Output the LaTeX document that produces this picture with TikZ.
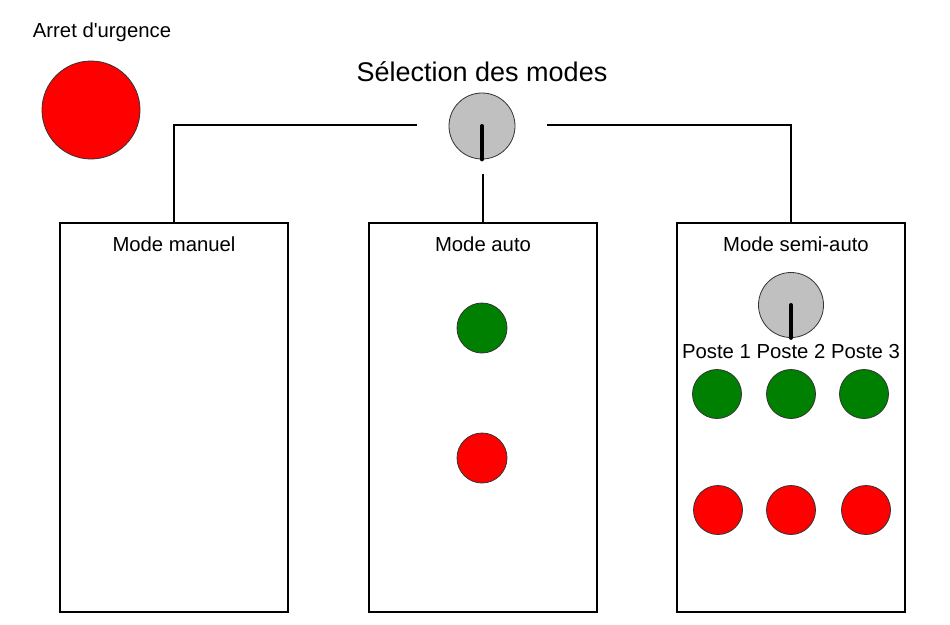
\documentclass[tikz,border=0pt]{standalone}
\usepackage{fontspec}
\setmainfont{Liberation Sans}[Ligatures=TeXOff]
\begin{document}
\begin{tikzpicture}[x=1pt,y=-1pt,
  box/.style={draw=black,line width=1.1pt,minimum width=228pt,minimum height=389pt,inner sep=0pt},
  lbl/.style={font=\fontsize{20.3}{24}\selectfont,inner sep=0pt},
  green btn/.style={circle,draw=black!80,line width=0.8pt,fill={rgb,255:red,0;green,128;blue,0},minimum size=49pt,inner sep=0pt},
  red btn/.style={circle,draw=black!80,line width=0.8pt,fill={rgb,255:red,255;green,0;blue,0},minimum size=49pt,inner sep=0pt},
  knob/.style={circle,draw=black!80,line width=0.8pt,fill={rgb,255:red,192;green,192;blue,192},minimum size=66pt,inner sep=0pt},
  pointer/.style={line width=4pt,line cap=round},
  wire/.style={line width=1.1pt}]
\useasboundingbox (0,0) rectangle (950,624);
\fill[white] (0,0) rectangle (950,624);
% emergency stop
\node[lbl] (arretlbl) at (102,32) {Arret d'urgence};
\node[red btn,minimum size=98pt] (arret) at (91,110) {};
% selector
\node[lbl,font=\fontsize{27}{32}\selectfont] (titre) at (482,72) {Sélection des modes};
\node[knob] (sel) at (482,126) {};
\draw[pointer] (sel.center) -- (sel.south);
% boxes
\node[box] (manuel) at (174,417.5) {};
\node[box] (auto) at (483,417.5) {};
\node[box] (semi) at (791,417.5) {};
\node[lbl] (manuellbl) at (174,244) {Mode manuel};
\node[lbl] (autolbl) at (483,244) {Mode auto};
\node[lbl] (semilbl) at (796,244) {Mode semi-auto};
% wires
\coordinate (selL) at (417,125);
\coordinate (selR) at (547,125);
\coordinate (selB) at (483,174);
\draw[wire] (selL) -| (manuel.north);
\draw[wire] (selR) -| (semi.north);
\draw[wire] (selB) -- (auto.north);
% auto buttons
\node[green btn,minimum size=50pt] (autoG) at (482,328) {};
\node[red btn,minimum size=50pt] (autoR) at (482,458) {};
% semi-auto
\node[knob,minimum size=65pt] (semisel) at (791,305) {};
\draw[pointer] (semisel.center) -- (semisel.south);
\node[lbl] (postes) at (791,352) {Poste 1 Poste 2 Poste 3};
\node[green btn] (g1) at (717,394) {};
\node[green btn] (g2) at (791,394) {};
\node[green btn] (g3) at (864,394) {};
\node[red btn] (r1) at (718,510) {};
\node[red btn] (r2) at (791,510) {};
\node[red btn] (r3) at (866,510) {};
\end{tikzpicture}
\end{document}
